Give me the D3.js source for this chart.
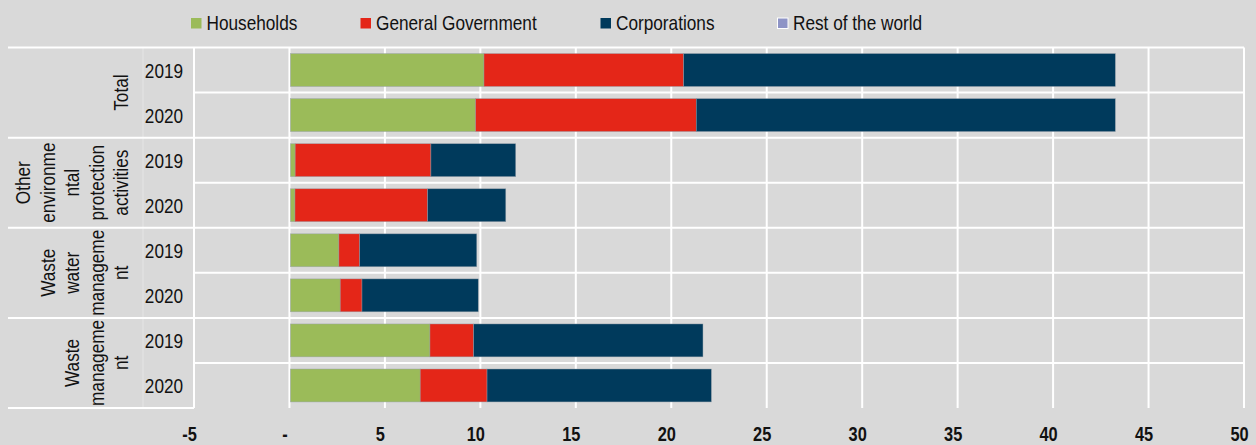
<!DOCTYPE html>
<html>
<head>
<meta charset="utf-8">
<script src="https://cdn.jsdelivr.net/npm/d3@7"></script>
<style>
  html, body { margin: 0; padding: 0; background: #d9d9d9; }
  svg { display: block; }
</style>
</head>
<body>
<svg width="1256" height="445"></svg>
<script>
// values
var categoryLines = [
  ["Total"],
  ["Other", "environme", "ntal", "protection", "activities"],
  ["Waste", "water", "manageme", "nt"],
  ["Waste", "manageme", "nt"]
];
var years = ["2019", "2020"];
var seriesNames = ["Households", "General Government", "Corporations", "Rest of the world"];
var seriesColors = ["#9bbb59", "#e42618", "#003a5c", "#8e94c6"];

// rows: Total 2019, Total 2020, Other 2019, Other 2020, Waste water 2019, 2020, Waste mgmt 2019, 2020
var households   = [10.19, 9.75, 0.30, 0.29, 2.59, 2.66, 7.36, 6.85];
var government   = [10.46, 11.56, 7.11, 6.95, 1.09, 1.14, 2.29, 3.50];
var corporations = [22.61, 21.95, 4.44, 4.09, 6.13, 6.09, 12.01, 11.75];
var restOfWorld  = [0, 0, 0, 0, 0, 0, 0, 0];

var tickValues = [-5, 0, 5, 10, 15, 20, 25, 30, 35, 40, 45, 50];
var tickLabels = ["-5", "-", "5", "10", "15", "20", "25", "30", "35", "40", "45", "50"];

var svg = d3.select("svg"),
    font = "'Liberation Sans', Arial, sans-serif",
    narrow = "scale(0.82,1)",
    plotTop = 47.5, plotBottom = 408, leftEdge = 8, labelRight = 194, plotRight = 1244;

var rows = [];
categoryLines.forEach(function(c, ci) {
  years.forEach(function(yr, yi) {
    var i = ci * years.length + yi;
    rows.push({key: ci + "-" + yr, cat: ci, year: yr,
      "Households": households[i],
      "General Government": government[i],
      "Corporations": corporations[i],
      "Rest of the world": restOfWorld[i]});
  });
});

var x = d3.scaleLinear().domain([-5, 50]).range([labelRight, plotRight]);
var y = d3.scaleBand().domain(rows.map(function(d) { return d.key; }))
    .range([plotTop, plotBottom]).paddingInner(0.27).paddingOuter(0.135);
var step = y.step();
var color = d3.scaleOrdinal().domain(seriesNames).range(seriesColors);

// vertical gridlines
svg.append("g").selectAll("line")
  .data(tickValues)
  .enter().append("line")
  .attr("x1", function(d) { return x(d); })
  .attr("x2", function(d) { return x(d); })
  .attr("y1", plotTop).attr("y2", plotBottom)
  .attr("stroke", "#fff").attr("stroke-width", 2);

// faint divider between category label and years
svg.append("line")
  .attr("x1", 143).attr("x2", 143).attr("y1", plotTop).attr("y2", plotBottom)
  .attr("stroke", "#fff").attr("stroke-opacity", 0.35);

// horizontal row lines
var rowLines = svg.append("g");
rows.forEach(function(d, i) {
  var yy = plotTop + i * step;
  rowLines.append("line")
    .attr("x1", i % years.length === 0 ? leftEdge : labelRight)
    .attr("x2", plotRight)
    .attr("y1", yy).attr("y2", yy)
    .attr("stroke", "#fff").attr("stroke-width", 2);
});
rowLines.append("line")
  .attr("x1", leftEdge).attr("x2", labelRight)
  .attr("y1", plotBottom).attr("y2", plotBottom)
  .attr("stroke", "#fff").attr("stroke-width", 2);

// stacked bars (first segment starts just right of the zero gridline)
var stacked = d3.stack().keys(seriesNames)(rows);
function x0(d) { return d[0] === 0 ? x(0) + 1 : x(d[0]); }
svg.append("g").selectAll("g")
  .data(stacked)
  .enter().append("g")
  .attr("fill", function(d) { return color(d.key); })
  .selectAll("rect")
  .data(function(d) { return d; })
  .enter().append("rect")
  .attr("x", x0)
  .attr("width", function(d) { return Math.max(0, x(d[1]) - x0(d)); })
  .attr("y", function(d) { return y(d.data.key); })
  .attr("height", y.bandwidth())
  .attr("stroke", "rgba(150,160,170,0.7)")
  .attr("stroke-width", function(d) { return d[1] > d[0] ? 0.6 : 0; });

// year labels
svg.append("g").selectAll("text")
  .data(rows)
  .enter().append("text")
  .attr("transform", function(d) {
    return "translate(164," + (y(d.key) + y.bandwidth() / 2) + ")" + narrow;
  })
  .attr("dy", "0.36em")
  .attr("text-anchor", "middle")
  .style("font-family", font)
  .style("font-size", "21px")
  .style("fill", "#111")
  .text(function(d) { return d.year; });

// category labels, rotated, last line nearest the years
categoryLines.forEach(function(lines, ci) {
  var cy = plotTop + (ci * years.length + years.length / 2) * step;
  lines.forEach(function(line, li) {
    var bx = 128 - (lines.length - 1 - li) * 24.4;
    svg.append("text")
      .attr("transform", "translate(" + bx + "," + cy + ")rotate(-90)" + narrow)
      .attr("text-anchor", "middle")
      .style("font-family", font)
      .style("font-size", "21px")
      .style("fill", "#111")
      .text(line);
  });
});

// x axis
var xAxis = d3.axisBottom(x)
  .tickValues(tickValues)
  .tickFormat(function(d, i) { return tickLabels[i]; })
  .tickSize(0)
  .tickPadding(19);

var axisG = svg.append("g")
  .attr("transform", "translate(-5," + plotBottom + ")")
  .call(xAxis);
axisG.select(".domain").remove();
axisG.selectAll("text")
  .attr("transform", narrow)
  .style("font-family", font)
  .style("font-size", "20px")
  .style("font-weight", "bold")
  .style("fill", "#111");

// legend
var legendX = [191, 360.5, 600.5, 777.5];
var legend = svg.append("g").selectAll("g")
  .data(seriesNames)
  .enter().append("g")
  .attr("transform", function(d, i) { return "translate(" + legendX[i] + ",18)"; });
legend.append("rect")
  .attr("width", 10.5).attr("height", 10.5)
  .attr("fill", function(d) { return color(d); })
  .attr("stroke", function(d, i) { return i === 3 ? "#fff" : "none"; })
  .attr("stroke-width", 1);
legend.append("text")
  .attr("transform", "translate(15.5,12)" + narrow)
  .style("font-family", font)
  .style("font-size", "21px")
  .style("fill", "#111")
  .text(function(d) { return d; });
</script>
</body>
</html>
